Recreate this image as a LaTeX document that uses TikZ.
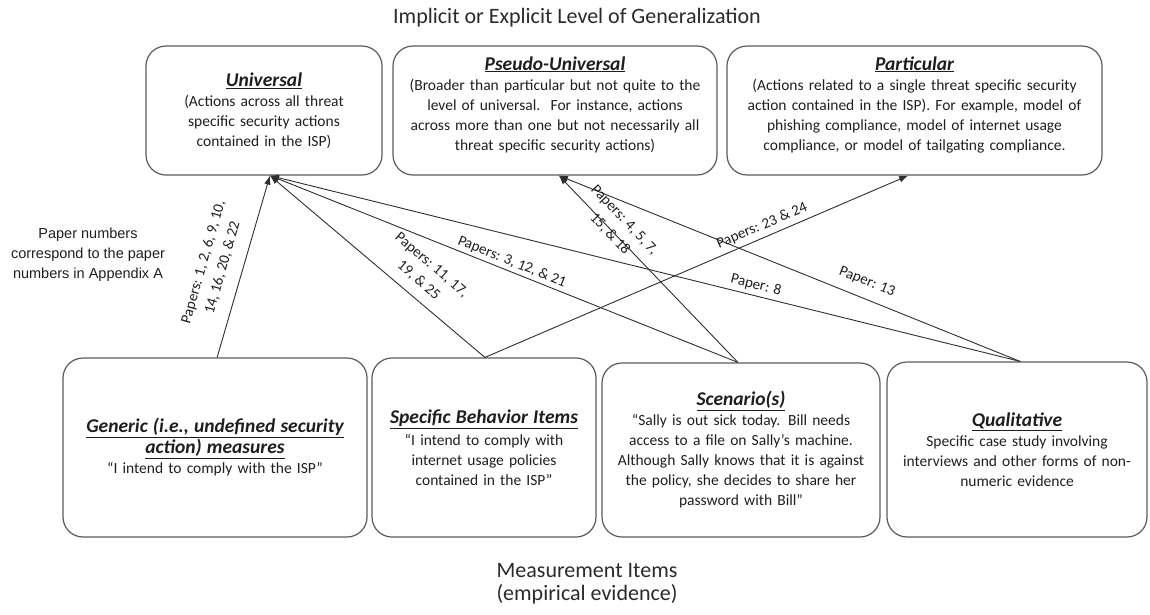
\documentclass[tikz,border=0pt]{standalone}
\usepackage{fontspec}
\setmainfont{Carlito}
\newfontfamily\arialfont{Liberation Sans}
\usetikzlibrary{arrows.meta,calc}
\definecolor{boxgray}{HTML}{5A5A5A}
\definecolor{linegray}{HTML}{2E2E2E}
\definecolor{txt}{HTML}{1E1E1E}
\definecolor{titlegray}{HTML}{2A2A2A}
\newcommand\boxhead[1]{{\fontsize{19.5}{22}\selectfont\bfseries\itshape\underline{#1}}}
\newcommand\padbottom[1]{\par\nointerlineskip\vbox to #1{}}
\begin{document}
\begin{tikzpicture}[x=1pt,y=-1pt,
  box/.style={draw=boxgray, line width=1.2pt, rounded corners=20pt, inner sep=0pt,
    align=center, text=txt, font=\fontsize{15.5}{20}\selectfont},
  conn/.style={draw=linegray, line width=0.9pt, -{Latex[length=9pt,width=6.5pt]}},
  lab/.style={text=txt, font=\fontsize{15}{20}\selectfont, align=center, inner sep=0pt},
  title/.style={text=titlegray, font=\fontsize{22}{23}\selectfont, align=center, inner sep=0pt}]
\useasboundingbox (0,0) rectangle (1150,614);

% titles
\node[title] (top) at (577,18) {Implicit or Explicit Level of Generalization};
\node[title] (bottom) at (587,584) {Measurement Items\\(empirical evidence)};

% top boxes
\node[box, minimum width=236pt, minimum height=129pt, text width=220pt] (uni) at (264,110.5)
  {\boxhead{Universal}\\(Actions across all threat\\specific security actions\\contained in the ISP)};
\node[box, minimum width=324pt, minimum height=129pt, text width=310pt] (pse) at (555,110.5)
  {\boxhead{Pseudo-Universal}\\(Broader than particular but not quite to the\\level of universal.\ \ For instance, actions\\across more than one but not necessarily all\\threat specific security actions)\padbottom{12pt}};
\node[box, minimum width=375pt, minimum height=129pt, text width=360pt] (par) at (914.5,110.5)
  {\boxhead{Particular}\\(Actions related to a single threat specific security\\action contained in the ISP). For example, model of\\phishing compliance, model of internet usage\\compliance, or model of tailgating compliance.\padbottom{12pt}};

% bottom boxes
\node[box, minimum width=304pt, minimum height=179pt, text width=290pt] (gen) at (215,447.5)
  {\boxhead{Generic (i.e., undefined security}\\[1pt]\boxhead{action) measures}\\“I intend to comply with the ISP”};
\node[box, minimum width=224pt, minimum height=179pt, text width=215pt] (spe) at (484,447.5)
  {\boxhead{Specific Behavior Items}\\[2pt]“I intend to comply with\\internet usage policies\\contained in the ISP”};
\node[box, minimum width=278pt, minimum height=174pt, text width=270pt] (sce) at (741,450)
  {\boxhead{Scenario(s)}\\“Sally is out sick today. Bill needs\\access to a file on Sally’s machine.\\Although Sally knows that it is against\\the policy, she decides to share her\\password with Bill”};
\node[box, minimum width=260pt, minimum height=175pt, text width=250pt] (qua) at (1017,449.5)
  {\boxhead{Qualitative}\\Specific case study involving\\interviews and other forms of non-\\numeric evidence};

% connector end points on the box borders
\coordinate (uniIn) at ($(uni.south west)!0.525!(uni.south east)$);
\coordinate (pseIn) at ($(pse.south west)!0.512!(pse.south east)$);
\coordinate (parIn) at ($(par.south west)!0.483!(par.south east)$);
\coordinate (genOut) at ($(gen.north west)!0.507!(gen.north east)$);
\coordinate (speOut) at ($(spe.north west)!0.504!(spe.north east)$);
\coordinate (sceOut) at ($(sce.north west)!0.489!(sce.north east)$);
\coordinate (quaOut) at ($(qua.north west)!0.512!(qua.north east)$);

% connectors
\draw[conn] (genOut) -- (uniIn);
\draw[conn] (speOut) -- (uniIn);
\draw[conn] (speOut) -- (parIn);
\draw[conn] (sceOut) -- (uniIn);
\draw[conn] (sceOut) -- (pseIn);
\draw[conn] (quaOut) -- (uniIn);
\draw[conn] (quaOut) -- (pseIn);

% connector labels
\node[lab, rotate=74] (l1) at (213,265) {Papers: 1, 2, 6, 9, 10,\\14, 16, 20, \& 22};
\node[lab, rotate=-40.4] (l2) at (425,273) {Papers: 11, 17,\\19, \& 25};
\node[lab, rotate=23.2] (l3) at (762,226) {Papers: 23 \& 24};
\node[lab, rotate=-21.9] (l4) at (512,262) {Papers: 3, 12, \& 21};
\node[lab, rotate=-46.4] (l6) at (617,227) {Papers: 4, 5, 7,\\15, \& 18};
\node[lab, rotate=-14] (l7) at (756,285) {Paper: 8};
\node[lab, rotate=-22] (l8) at (867,282) {Paper: 13};

% note
\node[text=txt, font=\arialfont\fontsize{14.5}{20}\selectfont, align=center, inner sep=0pt] (note) at (88,255)
  {Paper numbers\\correspond to the paper\\numbers in Appendix A};
\end{tikzpicture}
\end{document}
